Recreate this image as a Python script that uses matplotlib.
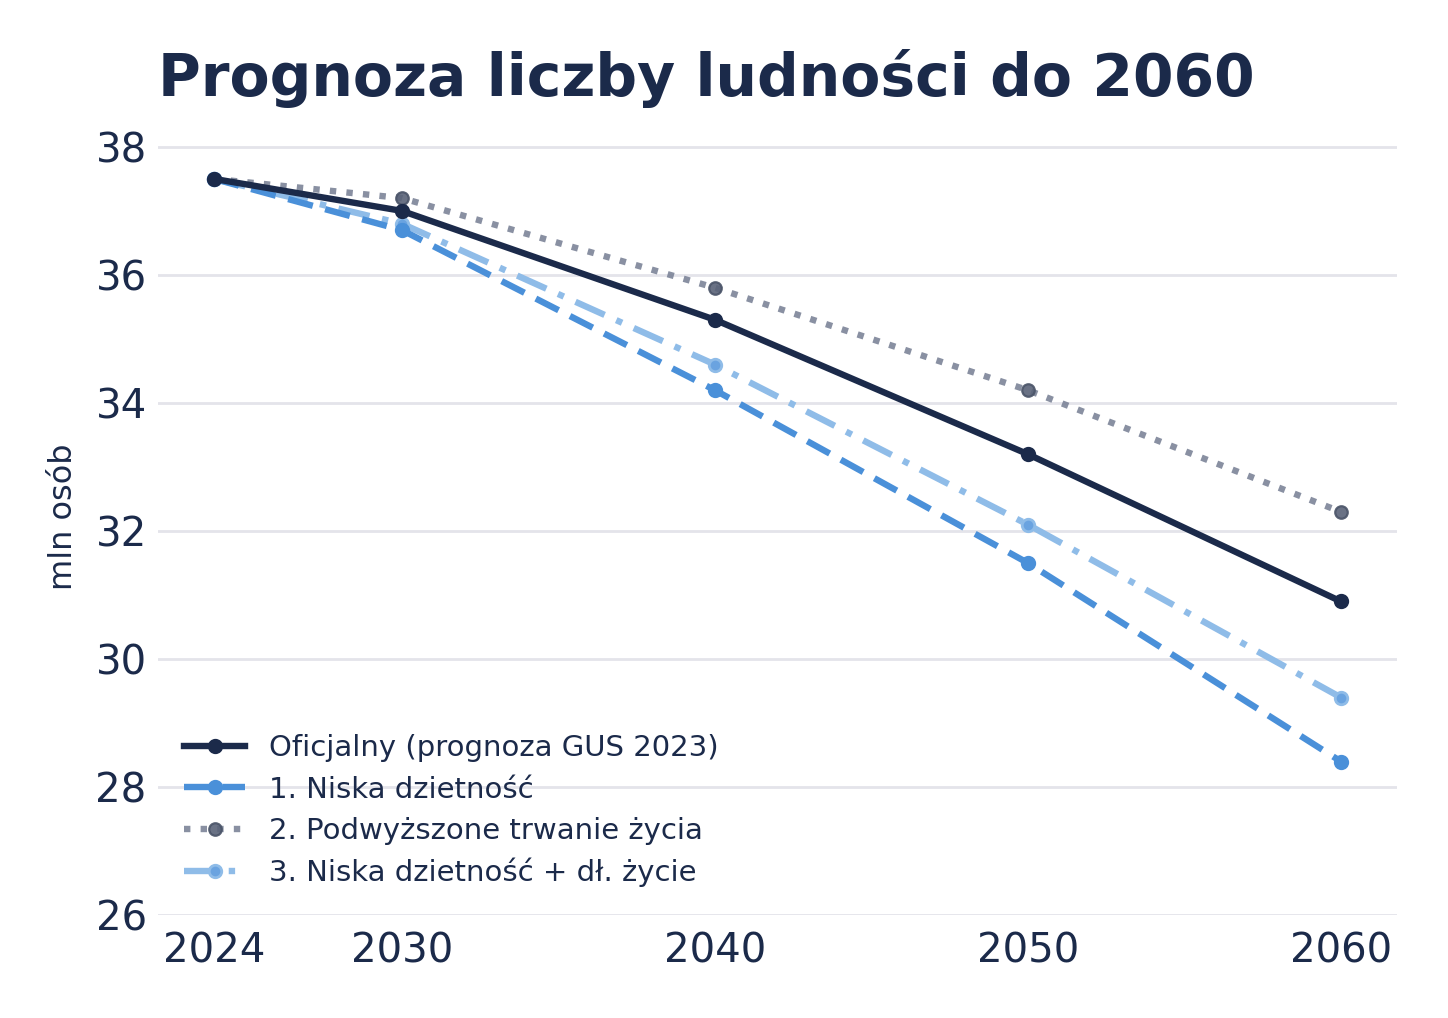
import matplotlib.pyplot as plt

# data
years = [2024, 2030, 2040, 2050, 2060]
oficjalny = [37.5, 37.0, 35.3, 33.2, 30.9]
niska_dzietnosc = [37.5, 36.7, 34.2, 31.5, 28.4]
dl_zycie = [37.5, 37.2, 35.8, 34.2, 32.3]
niska_dl = [37.5, 36.8, 34.6, 32.1, 29.4]

labels = ['Oficjalny (prognoza GUS 2023)', '1. Niska dzietność',
          '2. Podwyższone trwanie życia', '3. Niska dzietność + dł. życie']

navy = '#1b2a4a'
blue = '#4a90d9'
grey = '#7c8498'
light = '#8fbce8'

plt.rcParams['font.family'] = ['DejaVu Sans']

fig = plt.figure(figsize=(7.24, 5.09), dpi=200)
ax = fig.add_axes([0.109, 0.101, 0.856, 0.783])

ax.plot(years, oficjalny, color=navy, lw=2.3, marker='o', ms=4.5,
        label=labels[0], zorder=5)
ax.plot(years, niska_dzietnosc, color=blue, lw=2.3, ls=(0, (4, 2)),
        marker='o', ms=4.5, label=labels[1], zorder=4)
ax.plot(years, dl_zycie, color=grey, lw=2.3, ls=(0, (1, 1.6)),
        marker='o', ms=4.5, mfc='#5a6378', mec='#4a5468', mew=0.8,
        alpha=0.9, label=labels[2], zorder=3)
ax.plot(years, niska_dl, color=light, lw=2.3, ls=(0, (5, 2, 1, 2)),
        marker='o', ms=4.5, mfc='#6aa3e0', mec='#8fbce8',
        label=labels[3], zorder=3)

ax.set_xlim(2022.2, 2061.8)
ax.set_ylim(26, 38.45)
ax.set_xticks(years)
ax.set_yticks(range(26, 39, 2))
ax.tick_params(axis='both', length=0, labelsize=14.5, labelcolor=navy, pad=6)
ax.tick_params(axis='y', pad=4)
ax.grid(axis='y', color='#e4e4ea', lw=1)
ax.set_axisbelow(True)
for s in ax.spines.values():
    s.set_visible(False)

ax.set_ylabel('mln osób', fontsize=11.5, color=navy, labelpad=6)
ax.set_title('Prognoza liczby ludności do 2060', loc='left', fontsize=21,
             fontweight='bold', color=navy, pad=8)

leg = ax.legend(loc='lower left', frameon=False, fontsize=10.5,
                bbox_to_anchor=(0.0, 0.002), handlelength=2.1,
                labelspacing=0.45)
for t in leg.get_texts():
    t.set_color(navy)

fig.savefig('out.png', dpi=200, facecolor='white')
